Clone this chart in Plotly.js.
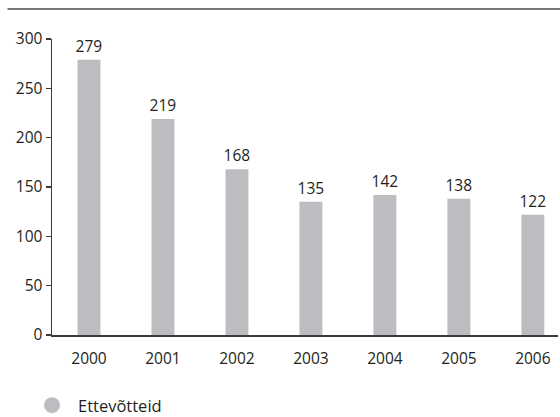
<!DOCTYPE html>
<html>
<head>
<meta charset="utf-8">
<script src="https://cdn.plot.ly/plotly-3.0.1.min.js"></script>
<style>html,body{margin:0;padding:0;background:#fff;}#chart{width:560px;height:417px;}</style>
</head>
<body>
<div id="chart"></div>
<script>
var years = ['2000', '2001', '2002', '2003', '2004', '2005', '2006'];
var counts = [279, 219, 168, 135, 142, 138, 122];
var seriesName = 'Ettevõtteid';
var yTicks = [0, 50, 100, 150, 200, 250, 300];

var barColor = '#bcbdc0';
var textColor = '#231f20';
var fontFamily = '"Open Sans", "Noto Sans", sans-serif';

var traces = [
  {
    type: 'bar',
    x: years,
    y: counts,
    width: 0.31,
    marker: {color: barColor},
    text: counts.map(String),
    textposition: 'outside',
    constraintext: 'none',
    textfont: {family: fontFamily, size: 15.5, color: textColor},
    cliponaxis: false,
    showlegend: false,
    hoverinfo: 'x+y'
  },
  {
    type: 'scatter',
    mode: 'markers',
    x: [null],
    y: [null],
    name: seriesName,
    marker: {symbol: 'circle', size: 16, color: barColor},
    showlegend: true
  }
];

var layout = {
  width: 560,
  height: 417,
  margin: {l: 52, r: 2, t: 39, b: 82, autoexpand: false},
  paper_bgcolor: '#ffffff',
  plot_bgcolor: '#ffffff',
  font: {family: fontFamily, size: 15.5, color: textColor},
  xaxis: {
    type: 'category',
    range: [-0.5, 6.34],
    showline: true,
    linecolor: '#3a3a3a',
    linewidth: 1.5,
    ticks: '',
    showgrid: false,
    zeroline: false,
    ticklabelstandoff: 9,
    tickfont: {family: fontFamily, size: 15.5, color: textColor},
    fixedrange: true
  },
  yaxis: {
    range: [0, 300],
    tickvals: yTicks,
    ticktext: yTicks.map(String),
    showline: true,
    linecolor: '#3a3a3a',
    linewidth: 1.5,
    ticks: 'outside',
    ticklen: 5,
    tickcolor: '#3a3a3a',
    tickwidth: 1.2,
    showgrid: false,
    zeroline: false,
    tickfont: {family: fontFamily, size: 15.5, color: textColor},
    fixedrange: true
  },
  legend: {
    orientation: 'h',
    x: -0.0514,
    xanchor: 'left',
    y: -0.238,
    yanchor: 'middle',
    itemwidth: 42,
    font: {family: fontFamily, size: 16.5, color: textColor},
    bgcolor: 'rgba(0,0,0,0)'
  },
  shapes: [
    {
      type: 'line',
      xref: 'paper',
      yref: 'paper',
      x0: -0.088,
      x1: 1.004,
      y0: 1.101,
      y1: 1.101,
      line: {color: '#4a4a4a', width: 1.5}
    }
  ]
};

Plotly.newPlot('chart', traces, layout, {displayModeBar: false, staticPlot: true});
</script>
</body>
</html>
